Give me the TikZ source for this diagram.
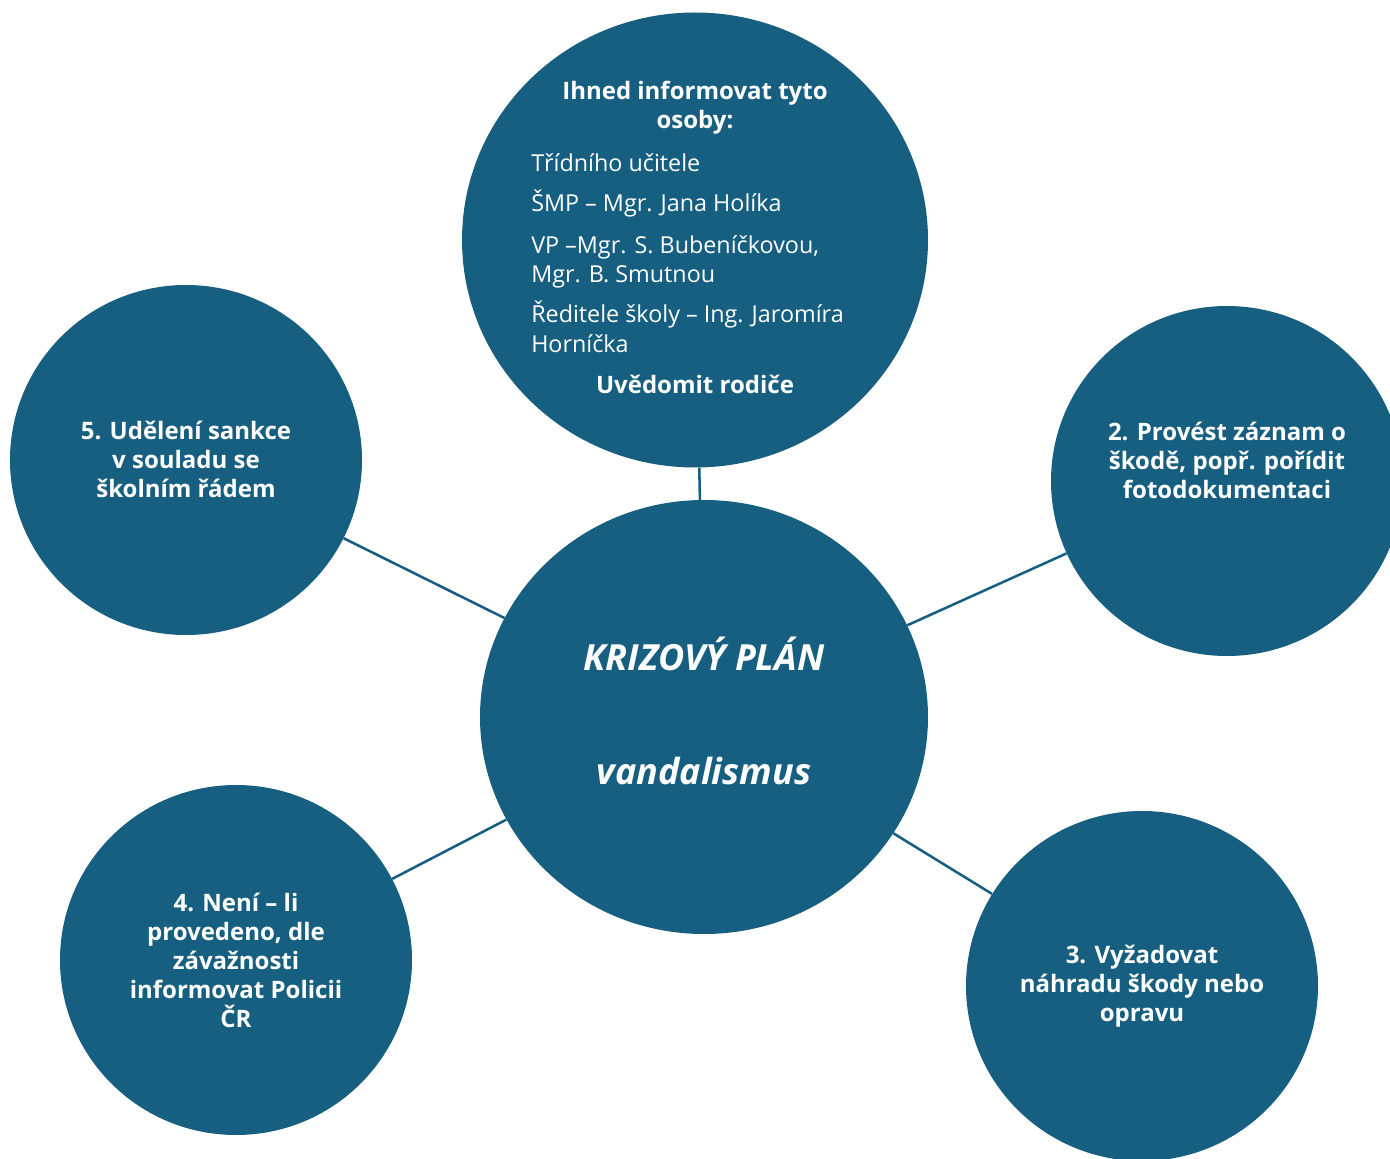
\documentclass[tikz,border=0pt]{standalone}
\usepackage{fontspec}
\setmainfont{Open Sans}
\usepackage{tikz}
\usetikzlibrary{shapes.geometric}
\definecolor{mteal}{HTML}{175F80}
\tikzset{bubble/.style = {ellipse, fill=mteal, inner sep = 0,
                          minimum width = 264pt, minimum height = 262.5pt}}
\tikzset{txtbold/.style = {text=white, inner sep = 0, align=center,
                           font=\fontsize{18}{21.75}\selectfont\bfseries}}
\tikzset{txtreg/.style = {text=white, inner sep = 0,
                          font=\fontsize{17.5}{21.75}\selectfont}}
\tikzset{link/.style = {draw=mteal, line width = 1.9pt}}

\begin{document}
\begin{tikzpicture}[x=0.75pt, y=-0.75pt]
    \useasboundingbox (0, 0) rectangle (1390, 1159);
    \clip (0, 0) rectangle (1390, 1159);

    \node [bubble, minimum width = 349.5pt, minimum height = 341.25pt] (info) at (695, 240) {};
    \node [bubble, minimum width = 336pt, minimum height = 325.5pt] (plan) at (704, 717) {};
    \node [text=white, inner sep = 0, align=center,
           font=\fontsize{27}{32}\selectfont\bfseries\itshape] (plantxt) at (704, 711)
          {KRIZOVÝ PLÁN\\[53pt]vandalismus};

    \node [bubble] (zaznam) at (1227, 481) {};
    \node [txtbold] (zaznamtxt) at (1227, 460) {2. Provést záznam o\\škodě, popř. pořídit\\fotodokumentaci};
    \node [bubble] (nahrada) at (1142, 986) {};
    \node [txtbold] (nahradatxt) at (1142, 986) {3. Vyžadovat\\náhradu škody nebo\\opravu};
    \node [bubble] (policie) at (236, 960) {};
    \node [txtbold] (policietxt) at (236, 960) {4. Není – li\\provedeno, dle\\závažnosti\\informovat Policii\\ČR};
    \node [bubble] (sankce) at (186, 460) {};
    \node [txtbold] (sankcetxt) at (186, 459) {5. Udělení sankce\\v souladu se\\školním řádem};

    \node [txtbold] (title) at (695, 108) {Ihned informovat tyto\\osoby:};
    \foreach \y/\t in {172/Třídního učitele, 212/ŠMP – Mgr. Jana Holíka,
                       253/{VP –Mgr. S. Bubeníčkovou,}, 282/Mgr. B. Smutnou,
                       323/Ředitele školy – Ing. Jaromíra, 352/Horníčka}
        \node [txtreg, anchor=base west] (item\y) at (531, \y) {\t};
    \node [txtbold] (rodice) at (695, 384) {Uvědomit rodiče};

    \draw [link] (info) -- (plan);
    \draw [link] (zaznam) -- (plan);
    \draw [link] (nahrada) -- (plan);
    \draw [link] (policie) -- (plan);
    \draw [link] (sankce) -- (plan);
\end{tikzpicture}
\end{document}
